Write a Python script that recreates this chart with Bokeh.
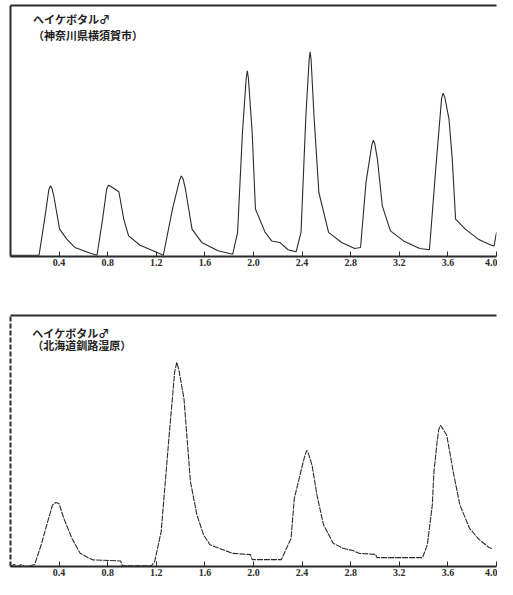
from bokeh.plotting import figure
from bokeh.layouts import column
from bokeh.models import FixedTicker, LinearAxis, Range1d, Label
from bokeh.embed import file_html
from bokeh.resources import INLINE

# ---------------- data ----------------
tick_vals = [0.4, 0.8, 1.2, 1.6, 2.0, 2.4, 2.8, 3.2, 3.6, 4.0]
tick_labels = ["0.4", "0.8", "1.2", "1.6", "2.0", "2.4", "2.8", "3.2", "3.6", "4.0"]

top_title1 = "ヘイケボタル♂"
top_title2 = "（神奈川県横須賀市）"
bot_title1 = "ヘイケボタル♂"
bot_title2 = "（北海道釧路湿原）"

# time (s) and relative light intensity, Kanagawa (Yokosuka)
top_t = [0.0, 0.235, 0.289, 0.315, 0.329, 0.342, 0.356, 0.404, 0.463, 0.530, 0.664, 0.712,
         0.758, 0.792, 0.806, 0.830, 0.892, 0.932, 0.972, 1.066, 1.173, 1.258, 1.333, 1.392, 1.406,
         1.42, 1.44, 1.494, 1.574, 1.708, 1.829, 1.869, 1.909, 1.940, 1.949, 1.958, 1.989, 2.016,
         2.096, 2.150, 2.217, 2.284, 2.351, 2.391, 2.431, 2.458, 2.466, 2.474, 2.498, 2.538,
         2.618, 2.725, 2.833, 2.881, 2.926, 2.974, 2.986, 2.998, 3.020, 3.060, 3.127, 3.235,
         3.368, 3.448, 3.502, 3.548, 3.561, 3.574, 3.609, 3.636, 3.663, 3.743, 3.850, 3.957,
         3.98, 4.0]
top_i = [0.5, 0.5, 17.5, 26.5, 28.2, 27.0, 24.2, 10.9, 6.9, 3.6, 1.2, 0.5,
         14.9, 27.0, 28.4, 27.8, 25.8, 14.9, 8.2, 4.5, 2.3, 0.5, 18.9, 30.5, 32.1,
         31.0, 26.8, 10.9, 5.6, 2.3, 0.9, 9.6, 49.4, 71.0, 74.0, 71.0, 49.4, 18.9,
         9.6, 6.2, 5.6, 2.7, 1.9, 9.6, 56.0, 78.5, 81.5, 78.5, 56.0, 25.5,
         9.6, 5.6, 3.2, 3.6, 29.5, 44.5, 46.3, 45.0, 38.8, 20.2, 10.2, 6.2,
         3.2, 2.7, 36.1, 63.0, 65.1, 63.5, 54.7, 38.8, 14.9, 10.9, 6.9, 4.5,
         4.2, 9.6]

# time (s) and relative light intensity, Hokkaido (Kushiro marsh)
bot_t = [0.0, 0.03, 0.06, 0.09, 0.12, 0.17, 0.199, 0.252, 0.306, 0.346,
         0.373, 0.399, 0.439, 0.506, 0.573, 0.639, 0.679, 0.907, 0.920, 1.160,
         1.187, 1.240, 1.308, 1.352, 1.369, 1.386, 1.428, 1.481, 1.534, 1.588, 1.641, 1.721,
         1.829, 1.975, 1.989, 2.229, 2.309, 2.336, 2.389, 2.425, 2.438, 2.452, 2.482, 2.522,
         2.576, 2.656, 2.736, 2.817, 2.870, 3.003, 3.017, 3.391, 3.431, 3.472,
         3.485, 3.511, 3.525, 3.538, 3.555, 3.591, 3.644, 3.698, 3.778, 3.858, 3.938, 3.962]
bot_i = [0.8, 1.6, 0.8, 1.6, 0.8, 1.2, 1.6, 9.3, 18.5, 25.1,
         26.1, 25.7, 19.8, 11.9, 6.0, 4.3, 3.4, 3.0, 1.1, 1.1,
         2.8, 14.6, 53.9, 78.0, 81.5, 78.5, 67.0, 34.3, 21.3, 13.4, 9.4, 7.9,
         6.0, 5.5, 3.5, 3.5, 11.9, 27.7, 38.2, 45.0, 46.7, 45.5, 40.8, 29.1,
         17.3, 10.0, 8.0, 7.1, 6.0, 5.6, 4.3, 4.3, 9.4, 25.2,
         38.2, 50.0, 55.0, 56.6, 55.5, 52.6, 38.2, 25.2, 15.9, 11.4, 8.3, 7.9]

INK = "#2b2b2b"
LABEL_FONT = "Liberation Serif"
CJK_FONT = "Noto Sans CJK JP"


def make_panel(t, i, title1, title2, height, border_top, border_bottom,
               border_left, y_start, trace_dash, left_dash, lab_x, lab_y1, lab_y2):
    p = figure(width=497, height=height, output_backend="svg", toolbar_location=None,
               x_range=Range1d(0, 4.0), y_range=Range1d(y_start, 100),
               x_axis_type=None, y_axis_type=None,
               min_border_left=border_left, min_border_right=1,
               min_border_top=border_top, min_border_bottom=border_bottom)
    p.outline_line_color = None
    p.grid.visible = False
    p.background_fill_color = "white"
    p.border_fill_color = "white"

    xa = LinearAxis(ticker=FixedTicker(ticks=tick_vals),
                    major_label_overrides={v: s for v, s in zip(tick_vals, tick_labels)})
    xa.axis_line_color = INK
    xa.axis_line_width = 2
    xa.major_tick_in = 5
    xa.major_tick_out = 0
    xa.major_tick_line_color = INK
    xa.minor_tick_line_color = None
    xa.major_label_standoff = 2
    xa.major_label_text_font = LABEL_FONT
    xa.major_label_text_font_style = "bold"
    xa.major_label_text_font_size = "10px"
    xa.major_label_text_color = INK
    p.add_layout(xa, "below")

    ya = LinearAxis(ticker=FixedTicker(ticks=[]))
    ya.axis_line_color = INK
    ya.axis_line_width = 2
    ya.axis_line_dash = left_dash
    ya.major_tick_line_color = None
    ya.minor_tick_line_color = None
    ya.major_label_standoff = 0
    ya.major_tick_out = 0
    ya.major_tick_in = 0
    p.add_layout(ya, "left")

    ta = LinearAxis(ticker=FixedTicker(ticks=[]))
    ta.axis_line_color = INK
    ta.axis_line_width = 2
    ta.major_tick_line_color = None
    ta.minor_tick_line_color = None
    ta.major_label_standoff = 0
    ta.major_tick_out = 0
    ta.major_tick_in = 0
    p.add_layout(ta, "above")

    p.line(t, i, line_color=INK, line_width=1.1, line_dash=trace_dash)

    for txt, yy in ((title1, lab_y1), (title2, lab_y2)):
        p.add_layout(Label(x=lab_x, y=yy, text=txt, text_font=CJK_FONT,
                           text_font_style="bold", text_font_size="11px",
                           text_color="#222222", text_baseline="middle",
                           text_align="left"))
    return p


top = make_panel(top_t, top_i, top_title1, top_title2, height=290,
                 border_top=5, border_bottom=34, border_left=6, y_start=0,
                 trace_dash="solid", left_dash="solid",
                 lab_x=0.185, lab_y1=94.5, lab_y2=88.2)
bot = make_panel(bot_t, bot_i, bot_title1, bot_title2, height=289,
                 border_top=25, border_bottom=13, border_left=10, y_start=0.8,
                 trace_dash="6 1", left_dash="5 2",
                 lab_x=0.18, lab_y1=92.9, lab_y2=88.2)

layout = column(top, bot, spacing=0)
open("out.html", "w").write(file_html(layout, INLINE))
